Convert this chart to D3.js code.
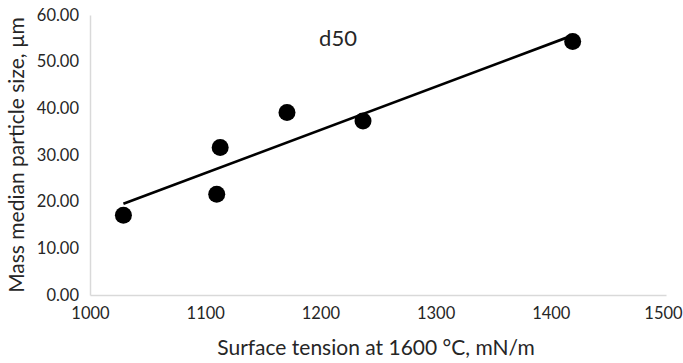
<!DOCTYPE html>
<html>
<head>
<meta charset="utf-8">
<script src="https://cdn.jsdelivr.net/npm/d3@7"></script>
<style>
  body { margin: 0; background: #fff; }
  text { font-family: Lato, "Open Sans", sans-serif; fill: #262626; }
</style>
</head>
<body>
<svg id="chart" width="683" height="363"></svg>
<script>
// surface tension (mN/m) vs d50 (um)
const tension = [1029, 1110, 1113, 1171, 1237, 1419];
const d50 = [17.1, 21.6, 31.6, 39.1, 37.3, 54.3];
const xTicks = [1000, 1100, 1200, 1300, 1400, 1500];
const yTicks = [0, 10, 20, 30, 40, 50, 60];

const svg = d3.select('#chart');
const x = d3.scaleLinear().domain([1000, 1500]).range([90, 666]);
const y = d3.scaleLinear().domain([0, 60]).range([295, 15]);

// axes
svg.append('g')
   .attr('transform', 'translate(0,295)')
   .call(d3.axisBottom(x).tickValues(xTicks).tickSize(0).tickPadding(12).tickFormat(d3.format('d')))
   .call(g => g.select('.domain').attr('stroke', '#d9d9d9').attr('stroke-width', 1.5))
   .selectAll('text')
   .style('font-size', '16.5px').attr('fill', '#262626')
   .attr('dx', (d) => d === 1500 ? -3 : 0);

svg.append('g')
   .attr('transform', 'translate(90,0)')
   .call(d3.axisLeft(y).tickValues(yTicks).tickSize(0).tickPadding(11).tickFormat(d3.format('.2f')))
   .call(g => g.select('.domain').attr('stroke', '#d9d9d9').attr('stroke-width', 1.5))
   .selectAll('text').style('font-size', '16.5px').attr('fill', '#262626');

// linear trendline
const mx = d3.mean(tension), my = d3.mean(d50);
const slope = d3.sum(tension, (t, i) => (t - mx) * (d50[i] - my)) / d3.sum(tension, t => (t - mx) ** 2);
const fit = t => my + slope * (t - mx);
const ends = d3.extent(tension);

svg.append('line')
   .attr('x1', x(ends[0])).attr('y1', y(fit(ends[0])))
   .attr('x2', x(ends[1])).attr('y2', y(fit(ends[1])))
   .attr('stroke', '#000').attr('stroke-width', 2.75);

svg.selectAll('circle')
   .data(tension)
   .enter()
   .append('circle')
   .attr('cx', (t) => x(t))
   .attr('cy', (t, i) => y(d50[i]))
   .attr('r', 8.5)
   .attr('fill', '#000');

svg.append('text')
   .attr('x', 338).attr('y', 46)
   .attr('text-anchor', 'middle')
   .style('font-size', '22px').attr('fill', '#000')
   .text('d50');

svg.append('text')
   .attr('x', 376).attr('y', 355)
   .attr('text-anchor', 'middle')
   .style('font-size', '21px')
   .text('Surface tension at 1600 °C, mN/m');

svg.append('text')
   .attr('transform', 'translate(24,155) rotate(-90)')
   .attr('text-anchor', 'middle')
   .style('font-size', '21px')
   .text('Mass median particle size, µm');
</script>
</body>
</html>
